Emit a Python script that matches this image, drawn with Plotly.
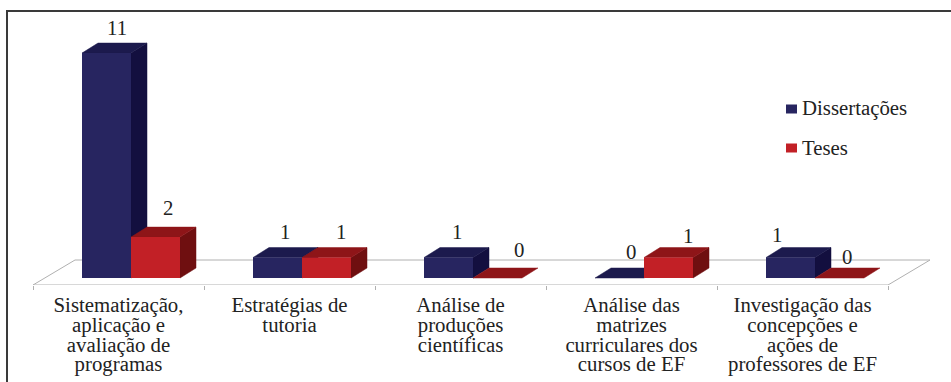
import plotly.graph_objects as go

categories = [
    ["Sistematização,", "aplicação e", "avaliação de", "programas"],
    ["Estratégias de", "tutoria"],
    ["Análise de", "produções", "científicas"],
    ["Análise das", "matrizes", "curriculares dos", "cursos de EF"],
    ["Investigação das", "concepções e", "ações de", "professores de EF"],
]
dissertacoes = [11, 1, 1, 0, 1]
teses = [2, 1, 0, 1, 0]
series_names = ["Dissertações", "Teses"]

W, H = 951, 382
PX_PER_CAT = 171.0
PX_PER_UNIT = 20.45
CAT0_PX = 118.5
BASE_PX = 278.0
FLOOR_FRONT_PX = 285.0
FLOOR_BACK_PX = 260.0

FONT = "Liberation Serif"
FONT_SIZE = 20.8
LINE_STEP_PX = 19.7
TEXT = "#222222"
FLOOR_LINE = "#b0b0b0"
BLUE = ("#272560", "#1c1a4d", "#130f3f")
RED = ("#c22026", "#8e1518", "#6f0f10")

dx = 16 / PX_PER_CAT          # depth of the 3D extrusion, horizontally
dy = 10 / PX_PER_UNIT         # and vertically
bar_w = 49 / PX_PER_CAT
group_shift = 12.5 / PX_PER_CAT

x_range = [-CAT0_PX / PX_PER_CAT, (W - CAT0_PX) / PX_PER_CAT]
y_range = [-(FLOOR_FRONT_PX - BASE_PX) / PX_PER_UNIT, BASE_PX / PX_PER_UNIT]
y_domain = [(H - FLOOR_FRONT_PX) / H, 1]

fig = go.Figure()


def polygon(xs, ys, color, line=None):
    fig.add_trace(go.Scatter(
        x=xs, y=ys, mode="lines", fill="toself", fillcolor=color,
        line=dict(color=line or color, width=1 if line else 0.5),
        showlegend=False, hoverinfo="skip",
    ))


# Floor of the pseudo-3D plot
floor_back = (BASE_PX - FLOOR_BACK_PX) / PX_PER_UNIT
left, right = -0.5, 4.5
polygon(
    [left, right, right + 42 / PX_PER_CAT, left + 42 / PX_PER_CAT, left],
    [y_range[0], y_range[0], floor_back, floor_back, y_range[0]],
    "#ffffff", FLOOR_LINE,
)

# Depth faces (top and right side) go on the lower layer
for i in range(len(categories)):
    centre = i + group_shift
    for values, x0, palette in (
        (dissertacoes, centre - bar_w, BLUE),
        (teses, centre, RED),
    ):
        v = values[i]
        x1 = x0 + bar_w
        if v > 0:
            polygon([x1, x1 + dx, x1 + dx, x1, x1],
                    [0, dy, v + dy, v, 0], palette[2])
        polygon([x0, x1, x1 + dx, x0 + dx, x0],
                [v, v, v + dy, v + dy, v], palette[1])

# Front faces sit above every depth face
centres = [i + group_shift for i in range(len(categories))]
fig.add_trace(go.Bar(
    x=[c - bar_w / 2 for c in centres], y=dissertacoes, width=bar_w,
    name=series_names[0], marker=dict(color=BLUE[0], line=dict(width=0)),
    xaxis="x2", yaxis="y2", showlegend=False, hoverinfo="skip",
))
fig.add_trace(go.Bar(
    x=[c + bar_w / 2 for c in centres], y=teses, width=bar_w,
    name=series_names[1], marker=dict(color=RED[0], line=dict(width=0)),
    xaxis="x2", yaxis="y2", showlegend=False, hoverinfo="skip",
))

# Value labels, each nudged clear of its bar's top face
blue_shift = [(10, 26), (7.5, 26), (8.5, 26), (11.5, 27), (-14, 23)]
red_shift = [(12.5, 30), (14.5, 26), (21, 29), (19.5, 22), (7.5, 22)]
annotations = []
for i in range(len(categories)):
    for values, sign, shifts in (
        (dissertacoes, -1, blue_shift), (teses, 1, red_shift),
    ):
        annotations.append(dict(
            x=centres[i] + sign * bar_w / 2, y=values[i], xref="x", yref="y",
            text=str(values[i]), showarrow=False,
            xshift=shifts[i][0], yshift=shifts[i][1],
            font=dict(family=FONT, size=FONT_SIZE, color=TEXT),
        ))

# Tick labels: the axis font size sets the tight leading (1.3 em per line),
# while an inline span sets the size of the glyphs themselves
ticktext = [
    "<br>".join(f'<span style="font-size:{FONT_SIZE}px">{line}</span>' for line in lines)
    for lines in categories
]

# Legend keys and their names
shapes = []
for name, colour, y_px in zip(series_names, (BLUE[0], RED[0]), (109, 148)):
    shapes.append(dict(
        type="rect", xref="paper", yref="paper", layer="above",
        x0=786 / W, x1=797 / W, y0=1 - (y_px - 4.5) / H, y1=1 - (y_px + 4.5) / H,
        fillcolor=colour, line=dict(width=0),
    ))
    annotations.append(dict(
        x=801 / W, xref="paper", xanchor="left",
        y=1 - (y_px - 1) / H, yref="paper", yanchor="middle",
        text=name, showarrow=False, borderpad=0,
        font=dict(family=FONT, size=FONT_SIZE, color=TEXT),
    ))

# Frame: left and top edges only
FRAME = dict(color="#3a3a3a", width=2)
shapes += [
    dict(type="line", xref="paper", yref="paper", x0=7 / W, x1=7 / W,
         y0=0, y1=1 - 11 / H, line=FRAME),
    dict(type="line", xref="paper", yref="paper", x0=6 / W, x1=1,
         y0=1 - 11 / H, y1=1 - 11 / H, line=FRAME),
]

fig.update_layout(
    width=W, height=H, autosize=False, showlegend=False,
    margin=dict(l=0, r=0, t=0, b=0, pad=0),
    paper_bgcolor="white", plot_bgcolor="rgba(0,0,0,0)",
    font=dict(family=FONT, size=FONT_SIZE, color=TEXT),
    barmode="overlay",
    xaxis=dict(
        range=x_range, domain=[0, 1], showgrid=False, zeroline=False,
        showline=False, ticks="", tickangle=0, tickmode="array",
        tickvals=list(range(len(categories))), ticktext=ticktext,
        tickfont=dict(family=FONT, size=LINE_STEP_PX / 1.3, color=TEXT),
        ticklabelstandoff=11,
        minor=dict(tickmode="array",
                   tickvals=[i - 0.5 for i in range(len(categories) + 1)],
                   ticks="outside", ticklen=4, tickcolor=FLOOR_LINE, tickwidth=1,
                   showgrid=False),
    ),
    yaxis=dict(range=y_range, domain=y_domain, visible=False),
    xaxis2=dict(range=x_range, domain=[0, 1], overlaying="x", visible=False),
    yaxis2=dict(range=y_range, domain=y_domain, overlaying="y", visible=False),
    shapes=shapes,
    annotations=annotations,
)

fig.write_html("out.html")
